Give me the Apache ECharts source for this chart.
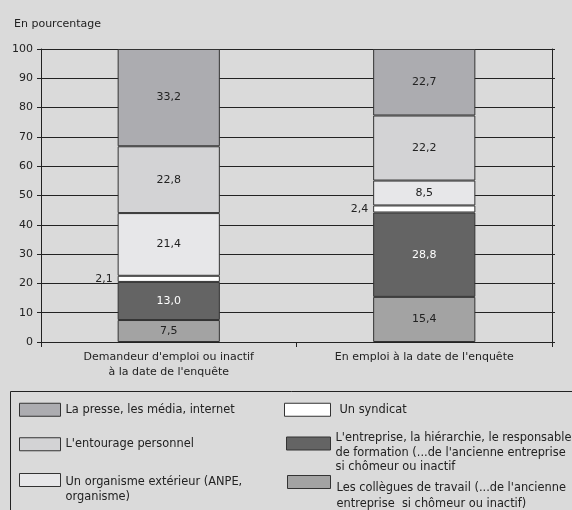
<!DOCTYPE html>
<html><head><meta charset="utf-8">
<script src="https://cdn.jsdelivr.net/npm/echarts@6/dist/echarts.min.js"></script>
<style>html,body{margin:0;padding:0;background:#dadada}#c{width:572px;height:510px}</style>
</head><body><div id="c"></div>
<script>
const categories = ["Demandeur d'emploi ou inactif\nà la date de l'enquête", "En emploi à la date de l'enquête"];
const yTicks = [0, 10, 20, 30, 40, 50, 60, 70, 80, 90, 100];
// stacked bottom -> top
const collegues = [7.5, 15.4];
const entreprise = [13.0, 28.8];
const syndicat = [2.1, 2.4];
const organisme = [21.4, 8.5];
const entourage = [22.8, 22.2];
const presse = [33.2, 22.7];

const names = {
  presse: "La presse, les média, internet",
  entourage: "L'entourage personnel",
  organisme: "Un organisme extérieur (ANPE,\norganisme)",
  syndicat: "Un syndicat",
  entreprise: "L'entreprise, la hiérarchie, le responsable\nde formation (...de l'ancienne entreprise\nsi chômeur ou inactif",
  collegues: "Les collègues de travail (...de l'ancienne\nentreprise  si chômeur ou inactif)"
};
const FONT = 'DejaVu Sans';
const fmt = p => p.value.toFixed(1).replace('.', ',');
function mk(key, data, color, labelColor, pos) {
  return {
    name: names[key], type: 'bar', stack: 's', data: data, barWidth: '40%',
    itemStyle: { color: color, borderColor: '#333', borderWidth: 1 },
    label: { show: true, position: pos || 'inside', formatter: fmt, color: labelColor, fontFamily: FONT, fontSize: 11, distance: 5 },
    emphasis: { disabled: true }
  };
}
const series = [
  mk('collegues', collegues, '#a3a3a3', '#222'),
  mk('entreprise', entreprise, '#646464', '#fff'),
  mk('syndicat', syndicat, '#ffffff', '#222', 'left'),
  mk('organisme', organisme, '#e7e7e9', '#222'),
  mk('entourage', entourage, '#d3d3d5', '#222'),
  mk('presse', presse, '#acacb0', '#222')
];
// lead: height of an empty spacer line before the text (vertical offset vs swatch)
function lg(key, left, top, w, lead, lh, padLeft) {
  return {
    data: [names[key]], left: left, top: top, icon: 'rect', itemWidth: w, itemHeight: 13, itemGap: 0,
    selectedMode: false, orient: 'vertical', padding: 0,
    itemStyle: { borderColor: '#333', borderWidth: 1 },
    formatter: function (n) {
      let s = n.split('\n').map(l => '{a|' + l + '}').join('\n');
      if (lead) s = '{s| }\n' + s;
      return s;
    },
    textStyle: {
      fontFamily: FONT, fontSize: 11.4, color: '#222', lineHeight: lh, padding: [0, 0, 0, padLeft || 0],
      rich: {
        a: { fontFamily: FONT, fontSize: 11.4, color: '#222', lineHeight: lh },
        s: { fontSize: 1, lineHeight: lead || 1 }
      }
    }
  };
}
const chart = echarts.init(document.getElementById('c'), null, { renderer: 'canvas' });
chart.setOption({
  backgroundColor: '#dadada',
  animation: false,
  title: { text: 'En pourcentage', left: 9, top: 14, textStyle: { fontFamily: FONT, fontSize: 11, fontWeight: 'normal', color: '#222' } },
  grid: { left: 41, right: 20, top: 49, bottom: 168 },
  xAxis: {
    type: 'category', data: categories,
    axisLine: { lineStyle: { color: '#222', width: 1 } },
    axisTick: { show: true, length: 5, lineStyle: { color: '#222' } },
    axisLabel: { fontFamily: FONT, fontSize: 11, color: '#222', margin: 8, lineHeight: 15 }
  },
  yAxis: [{
    type: 'value', min: 0, max: 100, interval: 10,
    axisLine: { show: true, lineStyle: { color: '#222' } },
    axisTick: { show: true, length: 4, lineStyle: { color: '#222' } },
    axisLabel: { fontFamily: FONT, fontSize: 11, color: '#222', margin: 8, formatter: v => yTicks.includes(v) ? String(v) : '' },
    splitLine: { show: true, lineStyle: { color: '#222', width: 1.2 } }
  }, {
    type: 'value', min: 0, max: 100, interval: 10, position: 'right',
    axisLine: { show: true, lineStyle: { color: '#222' } },
    axisTick: { show: true, length: 3, lineStyle: { color: '#222' } },
    axisLabel: { show: false }, splitLine: { show: false }
  }],
  legend: [
    lg('presse', 19, 402, 41, 0, 15.5, 0),
    lg('entourage', 19, 436.5, 41, 0, 15.5, 0),
    lg('organisme', 19, 455, 41, 19, 15.5, 0),
    lg('syndicat', 284, 402, 46, 0, 15.5, 4),
    lg('entreprise', 286, 412.25, 44, 19, 14.5, 0),
    lg('collegues', 287, 452, 43, 28, 16, 1)
  ],
  graphic: [{ type: 'rect', shape: { x: 10.5, y: 391.5, width: 600, height: 140 }, style: { fill: 'none', stroke: '#222', lineWidth: 1 }, z: -1 }],
  series: series
});
</script></body></html>
